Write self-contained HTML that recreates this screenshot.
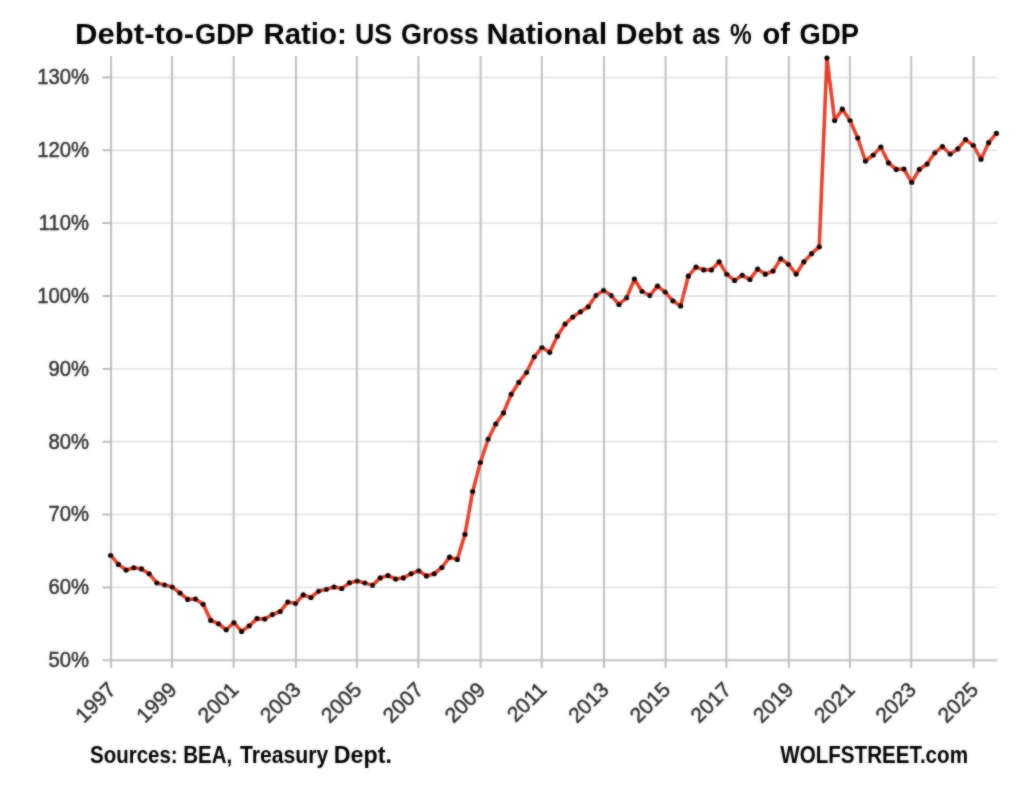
<!DOCTYPE html>
<html><head><meta charset="utf-8"><style>
html,body{margin:0;padding:0;background:#fff;}
body{width:1026px;height:800px;overflow:hidden;position:relative;}
svg{position:absolute;left:0;top:0;}
.yl,.xl{font-family:"Liberation Sans",sans-serif;font-size:22.5px;fill:#333;stroke:#333;stroke-width:0.5px;}
.xl{font-size:21px;}
.t{font-family:"Liberation Sans",sans-serif;font-weight:bold;fill:#000;}
</style></head><body>
<div style="position:absolute;left:0;top:0;width:1026px;height:800px;">
<svg width="1026" height="800" viewBox="0 0 1026 800">
<defs><filter id="bl" x="0" y="0" width="1026" height="800" filterUnits="userSpaceOnUse"><feGaussianBlur in="SourceGraphic" stdDeviation="1" result="b"/><feComposite in="SourceGraphic" in2="b" operator="arithmetic" k1="0" k2="0.5" k3="0.5" k4="0"/></filter></defs>
<rect width="1026" height="800" fill="#fff"/>
<g filter="url(#bl)">
<text x="75.00" y="43.5" class="t" font-size="29" textLength="79.54" lengthAdjust="spacingAndGlyphs">Debt-</text><text x="154.40" y="43.5" class="t" font-size="29" textLength="39.70" lengthAdjust="spacingAndGlyphs">to-</text><text x="195.00" y="43.5" class="t" font-size="29" textLength="58.87" lengthAdjust="spacingAndGlyphs">GDP</text><text x="263.40" y="43.5" class="t" font-size="29" textLength="83.43" lengthAdjust="spacingAndGlyphs">Ratio:</text><text x="355.00" y="43.5" class="t" font-size="29" textLength="37.20" lengthAdjust="spacingAndGlyphs">US</text><text x="401.00" y="43.5" class="t" font-size="29" textLength="77.85" lengthAdjust="spacingAndGlyphs">Gross</text><text x="486.60" y="43.5" class="t" font-size="29" textLength="120.56" lengthAdjust="spacingAndGlyphs">National</text><text x="615.40" y="43.5" class="t" font-size="29" textLength="67.69" lengthAdjust="spacingAndGlyphs">Debt</text><text x="692.20" y="43.5" class="t" font-size="29" textLength="28.34" lengthAdjust="spacingAndGlyphs">as</text><text x="730.00" y="43.5" class="t" font-size="29" textLength="21.70" lengthAdjust="spacingAndGlyphs">%</text><text x="762.40" y="43.5" class="t" font-size="29" textLength="27.44" lengthAdjust="spacingAndGlyphs">of</text><text x="799.60" y="43.5" class="t" font-size="29" textLength="59.30" lengthAdjust="spacingAndGlyphs">GDP</text>
<line x1="111" y1="587.43" x2="997" y2="587.43" stroke="#e4e4ea" stroke-width="1.8"/>
<line x1="111" y1="514.57" x2="997" y2="514.57" stroke="#e4e4ea" stroke-width="1.8"/>
<line x1="111" y1="441.71" x2="997" y2="441.71" stroke="#e4e4ea" stroke-width="1.8"/>
<line x1="111" y1="368.85" x2="997" y2="368.85" stroke="#e4e4ea" stroke-width="1.8"/>
<line x1="111" y1="295.99" x2="997" y2="295.99" stroke="#e4e4ea" stroke-width="1.8"/>
<line x1="111" y1="223.13" x2="997" y2="223.13" stroke="#e4e4ea" stroke-width="1.8"/>
<line x1="111" y1="150.27" x2="997" y2="150.27" stroke="#e4e4ea" stroke-width="1.8"/>
<line x1="111" y1="77.41" x2="997" y2="77.41" stroke="#e4e4ea" stroke-width="1.8"/>
<line x1="111.06" y1="56" x2="111.06" y2="668" stroke="#bebebe" stroke-width="2"/>
<line x1="172.07" y1="56" x2="172.07" y2="668" stroke="#bebebe" stroke-width="2"/>
<line x1="233.66" y1="56" x2="233.66" y2="668" stroke="#bebebe" stroke-width="2"/>
<line x1="295.90" y1="56" x2="295.90" y2="668" stroke="#bebebe" stroke-width="2"/>
<line x1="356.85" y1="56" x2="356.85" y2="668" stroke="#bebebe" stroke-width="2"/>
<line x1="418.43" y1="56" x2="418.43" y2="668" stroke="#bebebe" stroke-width="2"/>
<line x1="480.60" y1="56" x2="480.60" y2="668" stroke="#bebebe" stroke-width="2"/>
<line x1="541.75" y1="56" x2="541.75" y2="668" stroke="#bebebe" stroke-width="2"/>
<line x1="604.00" y1="56" x2="604.00" y2="668" stroke="#bebebe" stroke-width="2"/>
<line x1="665.60" y1="56" x2="665.60" y2="668" stroke="#bebebe" stroke-width="2"/>
<line x1="726.40" y1="56" x2="726.40" y2="668" stroke="#bebebe" stroke-width="2"/>
<line x1="788.80" y1="56" x2="788.80" y2="668" stroke="#bebebe" stroke-width="2"/>
<line x1="849.90" y1="56" x2="849.90" y2="668" stroke="#bebebe" stroke-width="2"/>
<line x1="911.20" y1="56" x2="911.20" y2="668" stroke="#bebebe" stroke-width="2"/>
<line x1="973.60" y1="56" x2="973.60" y2="668" stroke="#bebebe" stroke-width="2"/>
<line x1="102.5" y1="587.43" x2="111" y2="587.43" stroke="#b4b4b4" stroke-width="1.8"/>
<line x1="102.5" y1="514.57" x2="111" y2="514.57" stroke="#b4b4b4" stroke-width="1.8"/>
<line x1="102.5" y1="441.71" x2="111" y2="441.71" stroke="#b4b4b4" stroke-width="1.8"/>
<line x1="102.5" y1="368.85" x2="111" y2="368.85" stroke="#b4b4b4" stroke-width="1.8"/>
<line x1="102.5" y1="295.99" x2="111" y2="295.99" stroke="#b4b4b4" stroke-width="1.8"/>
<line x1="102.5" y1="223.13" x2="111" y2="223.13" stroke="#b4b4b4" stroke-width="1.8"/>
<line x1="102.5" y1="150.27" x2="111" y2="150.27" stroke="#b4b4b4" stroke-width="1.8"/>
<line x1="102.5" y1="77.41" x2="111" y2="77.41" stroke="#b4b4b4" stroke-width="1.8"/>
<line x1="102.5" y1="660.29" x2="997.3" y2="660.29" stroke="#c2c2c2" stroke-width="2"/>
<polyline points="110.69,555.40 118.40,564.40 126.10,570.00 133.80,567.75 141.50,568.90 149.20,573.75 156.90,583.10 164.61,585.00 172.31,587.00 180.01,593.00 187.71,599.40 195.41,599.00 203.11,604.25 210.82,620.40 218.52,623.75 226.22,629.75 233.92,622.70 241.62,631.40 249.32,625.75 257.03,618.60 264.73,619.00 272.43,614.50 280.13,611.50 287.83,602.10 295.53,603.55 303.24,594.90 310.94,597.50 318.64,591.10 326.34,589.25 334.04,587.00 341.74,588.50 349.45,582.90 357.15,581.00 364.85,583.10 372.55,585.40 380.25,577.90 387.95,575.60 395.66,579.00 403.36,577.90 411.06,573.75 418.76,570.80 426.46,575.90 434.16,573.75 441.87,567.50 449.57,557.20 457.27,559.40 464.97,534.40 472.67,491.60 480.37,462.50 488.08,439.40 495.78,424.00 503.48,412.90 511.18,394.30 518.88,382.40 526.58,372.30 534.29,356.80 541.99,347.50 549.69,352.30 557.39,336.20 565.09,324.00 572.79,317.00 580.50,311.80 588.20,306.80 595.90,295.50 603.60,290.40 611.30,295.60 619.00,304.50 626.71,297.70 634.41,279.10 642.11,291.50 649.81,295.60 657.51,286.00 665.21,292.20 672.92,300.80 680.62,305.90 688.32,276.20 696.02,267.10 703.72,269.90 711.42,269.90 719.13,261.80 726.83,274.30 734.53,280.40 742.23,275.30 749.93,279.40 757.63,269.10 765.34,274.20 773.04,271.10 780.74,258.75 788.44,264.30 796.14,274.10 803.84,261.90 811.55,253.70 819.25,246.80 826.95,58.10 834.65,120.50 842.35,109.20 850.05,120.50 857.76,138.00 865.46,161.00 873.16,155.00 880.86,147.00 888.56,162.90 896.26,169.40 903.97,169.00 911.67,182.40 919.37,169.40 927.07,164.10 934.77,152.75 942.47,146.60 950.18,154.00 957.88,148.90 965.58,139.60 973.28,145.40 980.98,159.20 988.68,142.70 996.39,133.40" fill="none" stroke="#e0432e" stroke-width="3.6" stroke-linejoin="round" stroke-linecap="round"/>
<circle cx="110.69" cy="555.40" r="2.6" fill="#000"/>
<circle cx="118.40" cy="564.40" r="2.6" fill="#000"/>
<circle cx="126.10" cy="570.00" r="2.6" fill="#000"/>
<circle cx="133.80" cy="567.75" r="2.6" fill="#000"/>
<circle cx="141.50" cy="568.90" r="2.6" fill="#000"/>
<circle cx="149.20" cy="573.75" r="2.6" fill="#000"/>
<circle cx="156.90" cy="583.10" r="2.6" fill="#000"/>
<circle cx="164.61" cy="585.00" r="2.6" fill="#000"/>
<circle cx="172.31" cy="587.00" r="2.6" fill="#000"/>
<circle cx="180.01" cy="593.00" r="2.6" fill="#000"/>
<circle cx="187.71" cy="599.40" r="2.6" fill="#000"/>
<circle cx="195.41" cy="599.00" r="2.6" fill="#000"/>
<circle cx="203.11" cy="604.25" r="2.6" fill="#000"/>
<circle cx="210.82" cy="620.40" r="2.6" fill="#000"/>
<circle cx="218.52" cy="623.75" r="2.6" fill="#000"/>
<circle cx="226.22" cy="629.75" r="2.6" fill="#000"/>
<circle cx="233.92" cy="622.70" r="2.6" fill="#000"/>
<circle cx="241.62" cy="631.40" r="2.6" fill="#000"/>
<circle cx="249.32" cy="625.75" r="2.6" fill="#000"/>
<circle cx="257.03" cy="618.60" r="2.6" fill="#000"/>
<circle cx="264.73" cy="619.00" r="2.6" fill="#000"/>
<circle cx="272.43" cy="614.50" r="2.6" fill="#000"/>
<circle cx="280.13" cy="611.50" r="2.6" fill="#000"/>
<circle cx="287.83" cy="602.10" r="2.6" fill="#000"/>
<circle cx="295.53" cy="603.55" r="2.6" fill="#000"/>
<circle cx="303.24" cy="594.90" r="2.6" fill="#000"/>
<circle cx="310.94" cy="597.50" r="2.6" fill="#000"/>
<circle cx="318.64" cy="591.10" r="2.6" fill="#000"/>
<circle cx="326.34" cy="589.25" r="2.6" fill="#000"/>
<circle cx="334.04" cy="587.00" r="2.6" fill="#000"/>
<circle cx="341.74" cy="588.50" r="2.6" fill="#000"/>
<circle cx="349.45" cy="582.90" r="2.6" fill="#000"/>
<circle cx="357.15" cy="581.00" r="2.6" fill="#000"/>
<circle cx="364.85" cy="583.10" r="2.6" fill="#000"/>
<circle cx="372.55" cy="585.40" r="2.6" fill="#000"/>
<circle cx="380.25" cy="577.90" r="2.6" fill="#000"/>
<circle cx="387.95" cy="575.60" r="2.6" fill="#000"/>
<circle cx="395.66" cy="579.00" r="2.6" fill="#000"/>
<circle cx="403.36" cy="577.90" r="2.6" fill="#000"/>
<circle cx="411.06" cy="573.75" r="2.6" fill="#000"/>
<circle cx="418.76" cy="570.80" r="2.6" fill="#000"/>
<circle cx="426.46" cy="575.90" r="2.6" fill="#000"/>
<circle cx="434.16" cy="573.75" r="2.6" fill="#000"/>
<circle cx="441.87" cy="567.50" r="2.6" fill="#000"/>
<circle cx="449.57" cy="557.20" r="2.6" fill="#000"/>
<circle cx="457.27" cy="559.40" r="2.6" fill="#000"/>
<circle cx="464.97" cy="534.40" r="2.6" fill="#000"/>
<circle cx="472.67" cy="491.60" r="2.6" fill="#000"/>
<circle cx="480.37" cy="462.50" r="2.6" fill="#000"/>
<circle cx="488.08" cy="439.40" r="2.6" fill="#000"/>
<circle cx="495.78" cy="424.00" r="2.6" fill="#000"/>
<circle cx="503.48" cy="412.90" r="2.6" fill="#000"/>
<circle cx="511.18" cy="394.30" r="2.6" fill="#000"/>
<circle cx="518.88" cy="382.40" r="2.6" fill="#000"/>
<circle cx="526.58" cy="372.30" r="2.6" fill="#000"/>
<circle cx="534.29" cy="356.80" r="2.6" fill="#000"/>
<circle cx="541.99" cy="347.50" r="2.6" fill="#000"/>
<circle cx="549.69" cy="352.30" r="2.6" fill="#000"/>
<circle cx="557.39" cy="336.20" r="2.6" fill="#000"/>
<circle cx="565.09" cy="324.00" r="2.6" fill="#000"/>
<circle cx="572.79" cy="317.00" r="2.6" fill="#000"/>
<circle cx="580.50" cy="311.80" r="2.6" fill="#000"/>
<circle cx="588.20" cy="306.80" r="2.6" fill="#000"/>
<circle cx="595.90" cy="295.50" r="2.6" fill="#000"/>
<circle cx="603.60" cy="290.40" r="2.6" fill="#000"/>
<circle cx="611.30" cy="295.60" r="2.6" fill="#000"/>
<circle cx="619.00" cy="304.50" r="2.6" fill="#000"/>
<circle cx="626.71" cy="297.70" r="2.6" fill="#000"/>
<circle cx="634.41" cy="279.10" r="2.6" fill="#000"/>
<circle cx="642.11" cy="291.50" r="2.6" fill="#000"/>
<circle cx="649.81" cy="295.60" r="2.6" fill="#000"/>
<circle cx="657.51" cy="286.00" r="2.6" fill="#000"/>
<circle cx="665.21" cy="292.20" r="2.6" fill="#000"/>
<circle cx="672.92" cy="300.80" r="2.6" fill="#000"/>
<circle cx="680.62" cy="305.90" r="2.6" fill="#000"/>
<circle cx="688.32" cy="276.20" r="2.6" fill="#000"/>
<circle cx="696.02" cy="267.10" r="2.6" fill="#000"/>
<circle cx="703.72" cy="269.90" r="2.6" fill="#000"/>
<circle cx="711.42" cy="269.90" r="2.6" fill="#000"/>
<circle cx="719.13" cy="261.80" r="2.6" fill="#000"/>
<circle cx="726.83" cy="274.30" r="2.6" fill="#000"/>
<circle cx="734.53" cy="280.40" r="2.6" fill="#000"/>
<circle cx="742.23" cy="275.30" r="2.6" fill="#000"/>
<circle cx="749.93" cy="279.40" r="2.6" fill="#000"/>
<circle cx="757.63" cy="269.10" r="2.6" fill="#000"/>
<circle cx="765.34" cy="274.20" r="2.6" fill="#000"/>
<circle cx="773.04" cy="271.10" r="2.6" fill="#000"/>
<circle cx="780.74" cy="258.75" r="2.6" fill="#000"/>
<circle cx="788.44" cy="264.30" r="2.6" fill="#000"/>
<circle cx="796.14" cy="274.10" r="2.6" fill="#000"/>
<circle cx="803.84" cy="261.90" r="2.6" fill="#000"/>
<circle cx="811.55" cy="253.70" r="2.6" fill="#000"/>
<circle cx="819.25" cy="246.80" r="2.6" fill="#000"/>
<circle cx="826.95" cy="58.10" r="2.6" fill="#000"/>
<circle cx="834.65" cy="120.50" r="2.6" fill="#000"/>
<circle cx="842.35" cy="109.20" r="2.6" fill="#000"/>
<circle cx="850.05" cy="120.50" r="2.6" fill="#000"/>
<circle cx="857.76" cy="138.00" r="2.6" fill="#000"/>
<circle cx="865.46" cy="161.00" r="2.6" fill="#000"/>
<circle cx="873.16" cy="155.00" r="2.6" fill="#000"/>
<circle cx="880.86" cy="147.00" r="2.6" fill="#000"/>
<circle cx="888.56" cy="162.90" r="2.6" fill="#000"/>
<circle cx="896.26" cy="169.40" r="2.6" fill="#000"/>
<circle cx="903.97" cy="169.00" r="2.6" fill="#000"/>
<circle cx="911.67" cy="182.40" r="2.6" fill="#000"/>
<circle cx="919.37" cy="169.40" r="2.6" fill="#000"/>
<circle cx="927.07" cy="164.10" r="2.6" fill="#000"/>
<circle cx="934.77" cy="152.75" r="2.6" fill="#000"/>
<circle cx="942.47" cy="146.60" r="2.6" fill="#000"/>
<circle cx="950.18" cy="154.00" r="2.6" fill="#000"/>
<circle cx="957.88" cy="148.90" r="2.6" fill="#000"/>
<circle cx="965.58" cy="139.60" r="2.6" fill="#000"/>
<circle cx="973.28" cy="145.40" r="2.6" fill="#000"/>
<circle cx="980.98" cy="159.20" r="2.6" fill="#000"/>
<circle cx="988.68" cy="142.70" r="2.6" fill="#000"/>
<circle cx="996.39" cy="133.40" r="2.6" fill="#000"/>
<text transform="translate(89,667.09) scale(0.9,1)" text-anchor="end" class="yl">50%</text>
<text transform="translate(89,594.23) scale(0.9,1)" text-anchor="end" class="yl">60%</text>
<text transform="translate(89,521.37) scale(0.9,1)" text-anchor="end" class="yl">70%</text>
<text transform="translate(89,448.51) scale(0.9,1)" text-anchor="end" class="yl">80%</text>
<text transform="translate(89,375.65) scale(0.9,1)" text-anchor="end" class="yl">90%</text>
<text transform="translate(89,302.79) scale(0.9,1)" text-anchor="end" class="yl">100%</text>
<text transform="translate(89,229.93) scale(0.9,1)" text-anchor="end" class="yl">110%</text>
<text transform="translate(89,157.07) scale(0.9,1)" text-anchor="end" class="yl">120%</text>
<text transform="translate(89,84.21) scale(0.9,1)" text-anchor="end" class="yl">130%</text>
<text transform="translate(117.06,691) rotate(-45)" text-anchor="end" class="xl">1997</text>
<text transform="translate(178.07,691) rotate(-45)" text-anchor="end" class="xl">1999</text>
<text transform="translate(239.66,691) rotate(-45)" text-anchor="end" class="xl">2001</text>
<text transform="translate(301.90,691) rotate(-45)" text-anchor="end" class="xl">2003</text>
<text transform="translate(362.85,691) rotate(-45)" text-anchor="end" class="xl">2005</text>
<text transform="translate(424.43,691) rotate(-45)" text-anchor="end" class="xl">2007</text>
<text transform="translate(486.60,691) rotate(-45)" text-anchor="end" class="xl">2009</text>
<text transform="translate(547.75,691) rotate(-45)" text-anchor="end" class="xl">2011</text>
<text transform="translate(610.00,691) rotate(-45)" text-anchor="end" class="xl">2013</text>
<text transform="translate(671.60,691) rotate(-45)" text-anchor="end" class="xl">2015</text>
<text transform="translate(732.40,691) rotate(-45)" text-anchor="end" class="xl">2017</text>
<text transform="translate(794.80,691) rotate(-45)" text-anchor="end" class="xl">2019</text>
<text transform="translate(855.90,691) rotate(-45)" text-anchor="end" class="xl">2021</text>
<text transform="translate(917.20,691) rotate(-45)" text-anchor="end" class="xl">2023</text>
<text transform="translate(979.60,691) rotate(-45)" text-anchor="end" class="xl">2025</text>
<text x="90.00" y="762.5" class="t" font-size="24" textLength="87.67" lengthAdjust="spacingAndGlyphs">Sources:</text><text x="183.20" y="762.5" class="t" font-size="24" textLength="48.93" lengthAdjust="spacingAndGlyphs">BEA,</text><text x="240.00" y="762.5" class="t" font-size="24" textLength="88.21" lengthAdjust="spacingAndGlyphs">Treasury</text><text x="333.80" y="762.5" class="t" font-size="24" textLength="58.18" lengthAdjust="spacingAndGlyphs">Dept.</text><text x="780.20" y="762.5" class="t" font-size="24" textLength="187.81" lengthAdjust="spacingAndGlyphs">WOLFSTREET.com</text>
</g>
</svg>
</div>
</body></html>
